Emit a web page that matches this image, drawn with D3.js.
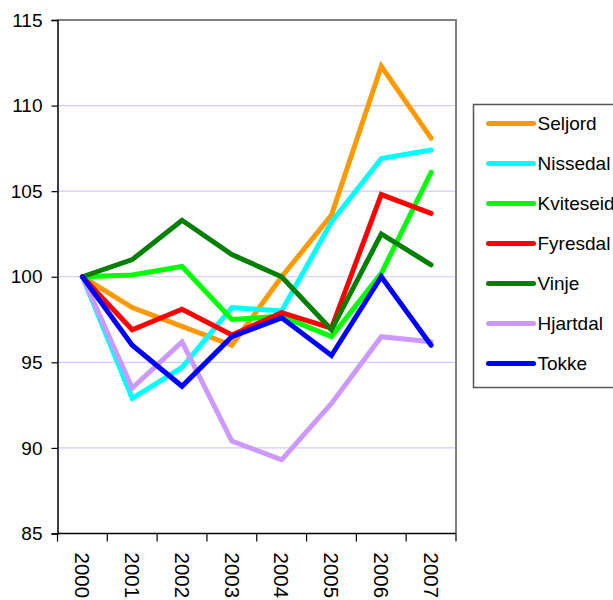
<!DOCTYPE html>
<html>
<head>
<meta charset="utf-8">
<script src="https://cdn.jsdelivr.net/npm/d3@7"></script>
<style>
  body { margin: 0; background: #fff; }
  svg { display: block; font-family: "Liberation Sans", Arial, sans-serif; }
</style>
</head>
<body>
<script>
const years = ["2000", "2001", "2002", "2003", "2004", "2005", "2006", "2007"]
const names = ["Seljord", "Nissedal", "Kviteseid", "Fyresdal", "Vinje", "Hjartdal", "Tokke"]
const colors = ["#ff9900", "#00ffff", "#00ff00", "#ff0000", "#008000", "#cc99ff", "#0000ff"]

const seljord   = [100, 98.2, 97.1, 96.0, 100.0, 103.6, 112.3, 108.1]
const nissedal  = [100, 92.9, 94.7, 98.2, 98.0, 103.2, 106.9, 107.4]
const kviteseid = [100, 100.1, 100.6, 97.5, 97.7, 96.5, 100.2, 106.1]
const fyresdal  = [100, 96.9, 98.1, 96.6, 97.9, 97.0, 104.8, 103.7]
const vinje     = [100, 101.0, 103.3, 101.3, 100.0, 96.9, 102.5, 100.7]
const hjartdal  = [100, 93.5, 96.2, 90.4, 89.3, 92.6, 96.5, 96.2]
const tokke     = [100, 96.0, 93.6, 96.5, 97.6, 95.4, 100.0, 96.0]

const yTicks = [85, 90, 95, 100, 105, 110, 115]

const series = [seljord, nissedal, kviteseid, fyresdal, vinje, hjartdal, tokke]

const width = 613, height = 600
const ivp = {x: 57.5, y: 20, w: 456, h: 533.5}

const svg = d3.select("body")
    .append("svg")
    .attr("width", width)
    .attr("height", height)

const xScale = d3.scaleBand()
    .domain(years)
    .range([ivp.x, ivp.w])

const yScale = d3.scaleLinear()
    .domain([85, 115])
    .range([ivp.h, ivp.y])

// gridlines
svg.append("g")
    .selectAll("line")
    .data(yTicks.filter(t => t > 85 && t < 115))
    .enter()
    .append("line")
    .attr("x1", ivp.x)
    .attr("x2", ivp.w)
    .attr("y1", d => yScale(d))
    .attr("y2", d => yScale(d))
    .attr("stroke", "#ccccff")
    .attr("stroke-width", 1.2)

// plot border: top and right in gray
svg.append("path")
    .attr("d", `M${ivp.x},${yScale(115)}H${ivp.w}V${yScale(85)}`)
    .attr("fill", "none")
    .attr("stroke", "#808080")
    .attr("stroke-width", 2)

// y axis
const yAxis = svg.append("g")
    .attr("transform", `translate(${ivp.x},0)`)
    .call(d3.axisLeft(yScale).tickValues(yTicks).tickSize(6).tickPadding(9))
yAxis.select(".domain").attr("stroke", "#000").attr("stroke-width", 1.5)
yAxis.selectAll(".tick line").attr("stroke", "#000").attr("stroke-width", 1.2)
yAxis.selectAll(".tick text")
    .attr("font-size", 19)
    .attr("font-family", "Liberation Sans, Arial, sans-serif")
    .attr("fill", "#000")

// x axis: ticks between categories
const xAxis = svg.append("g")
    .attr("transform", `translate(0,${ivp.h})`)
xAxis.append("line")
    .attr("x1", ivp.x).attr("x2", ivp.w)
    .attr("stroke", "#000").attr("stroke-width", 1.5)
xAxis.selectAll(".tk")
    .data(years.concat(["end"]))
    .enter()
    .append("line")
    .attr("x1", (d, i) => i < years.length ? xScale(d) : ivp.w)
    .attr("x2", (d, i) => i < years.length ? xScale(d) : ivp.w)
    .attr("y1", 0)
    .attr("y2", 8)
    .attr("stroke", "#000")
    .attr("stroke-width", 1.2)
xAxis.selectAll(".lbl")
    .data(years)
    .enter()
    .append("text")
    .attr("transform", d => `translate(${xScale(d) + xScale.bandwidth() / 2},19) rotate(90)`)
    .attr("dy", "0.35em")
    .attr("font-size", 20.5)
    .attr("fill", "#000")
    .text(d => d)

// lines
const line = d3.line()
    .x((d, i) => xScale(years[i]) + xScale.bandwidth() / 2)
    .y(d => yScale(d))

svg.append("g")
    .selectAll("path")
    .data(series)
    .enter()
    .append("path")
    .attr("d", d => line(d))
    .attr("fill", "none")
    .attr("stroke", (d, i) => colors[i])
    .attr("stroke-width", 5)
    .attr("stroke-linejoin", "miter")
    .attr("stroke-linecap", "round")

// legend
const legend = svg.append("g")
    .attr("transform", "translate(473.5,104.5)")
legend.append("rect")
    .attr("width", 160)
    .attr("height", 283)
    .attr("fill", "#fff")
    .attr("stroke", "#555")
    .attr("stroke-width", 1.5)
const items = legend.selectAll(".item")
    .data(names)
    .enter()
    .append("g")
    .attr("transform", (d, i) => `translate(0,${19 + i * 40})`)
items.append("line")
    .attr("x1", 15).attr("x2", 60)
    .attr("stroke", (d, i) => colors[i])
    .attr("stroke-width", 5)
    .attr("stroke-linecap", "round")
items.append("text")
    .attr("x", 64)
    .attr("dy", "0.35em")
    .attr("font-size", 19)
    .attr("fill", "#000")
    .text(d => d)
</script>
</body>
</html>
